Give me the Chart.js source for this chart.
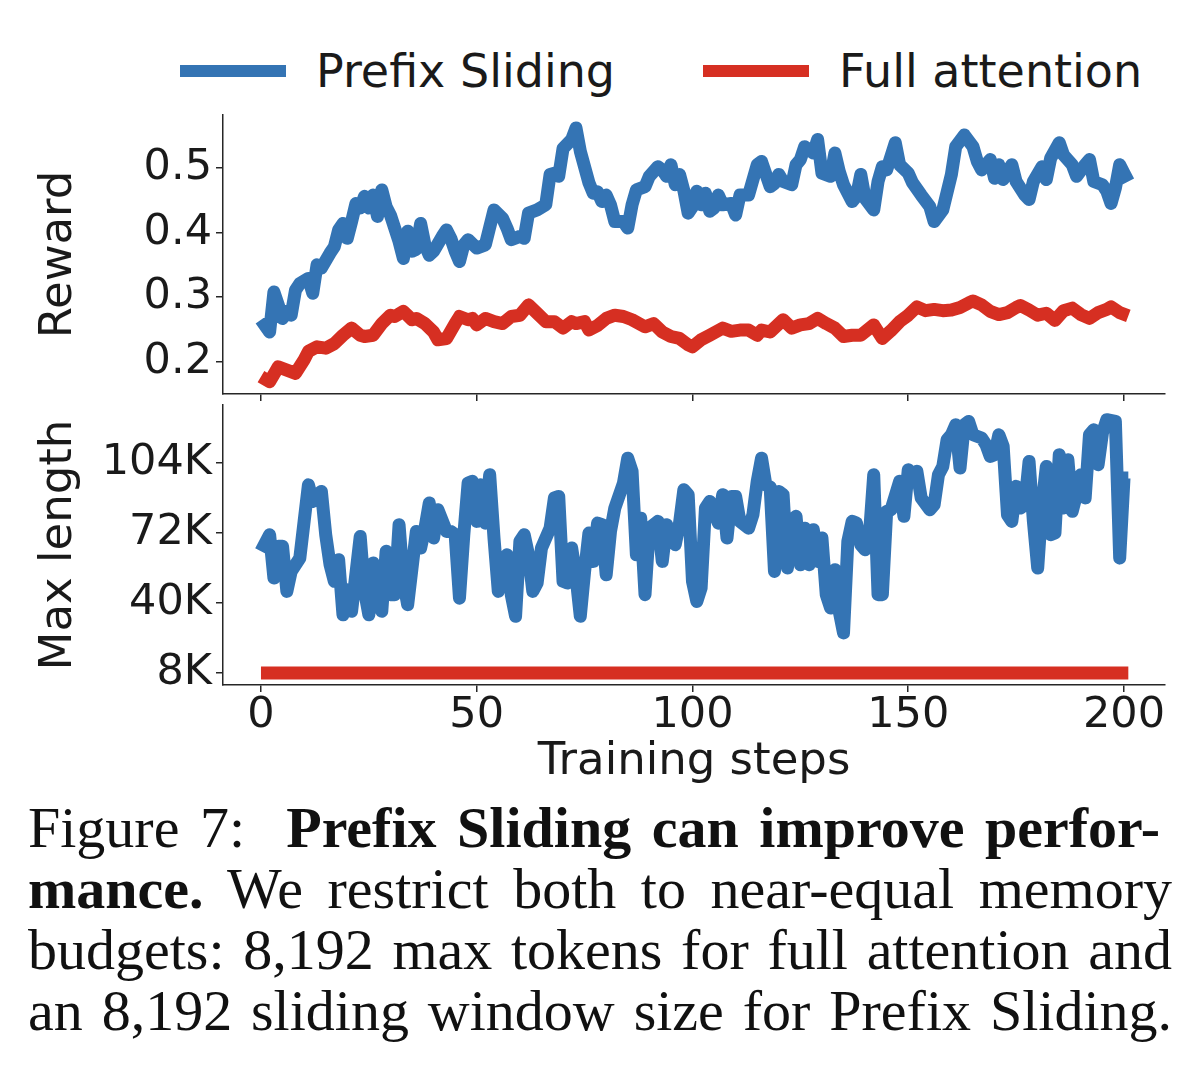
<!DOCTYPE html>
<html>
<head>
<meta charset="utf-8">
<title>Figure 7</title>
<script src="https://cdn.jsdelivr.net/npm/chart.js@4.4.1/dist/chart.umd.min.js"></script>
<style>
    html, body { margin: 0; padding: 0; background: #fff; }
    body { width: 1200px; height: 1071px; position: relative; overflow: hidden; }
    canvas { position: absolute; left: 0; }
    #rewardChart { top: 60px; }
    #lengthChart { top: 370px; }

    .legend {
        position: absolute; left: 180px; top: 44px;
        display: flex; align-items: center;
        font-family: "DejaVu Sans"; font-size: 46px; line-height: 54px; color: #1a1a1a;
        white-space: nowrap;
    }
    .legend .swatch { width: 106px; height: 12px; margin-right: 30px; }
    .legend .name { margin-right: 88px; }

    .caption {
        position: absolute; left: 28px; top: 797px; width: 1144px;
        font-family: "Liberation Serif", serif; font-size: 58px; line-height: 61px; color: #111;
    }
    .caption div { text-align: justify; text-align-last: justify; }
    .caption .first { width: 1132px; }
</style>
</head>
<body>

<div class="legend" id="legend"></div>
<canvas id="rewardChart" width="1200" height="390"></canvas>
<canvas id="lengthChart" width="1200" height="440"></canvas>

<div class="caption">
    <div class="first">Figure 7:&nbsp; <b>Prefix Sliding can improve perfor-</b></div>
    <div><b>mance.</b> We restrict both to near-equal memory</div>
    <div>budgets: 8,192 max tokens for full attention and</div>
    <div>an 8,192 sliding window size for Prefix Sliding.</div>
</div>

<script>
// ================= DATA =================
const stepTicks = [0, 50, 100, 150, 200];
const rewardTicks = [0.2, 0.3, 0.4, 0.5];
const lengthTicks = [8, 40, 72, 104];          // K tokens

const seriesNames = ["Prefix Sliding", "Full attention"];
const seriesColors = ["#3474b4", "#d62f22"];

// Reward, Prefix Sliding
const prefixRewardSteps = [
    0, 2, 3, 4, 5, 6, 7, 8, 9, 11, 12, 13, 14, 16, 17, 18, 19, 20, 21, 22,
    23, 24, 25, 26, 27, 28, 29, 30, 32, 33, 34, 35, 36, 37, 38, 39, 40, 42, 43, 44,
    45, 46, 47, 48, 50, 52, 54, 56, 57, 58, 60, 61, 62, 64, 66, 67, 68, 69, 70, 72,
    73, 74, 76, 77, 78, 79, 80, 81, 82, 84, 85, 86, 87, 89, 90, 92, 93, 94, 95, 96,
    97, 98, 99, 100, 101, 102, 103, 104, 105, 106, 107, 109, 110, 111, 113, 115, 116, 118, 119, 120,
    121, 123, 124, 125, 126, 128, 129, 130, 132, 133, 134, 135, 137, 138, 139, 140, 142, 143, 144, 145,
    147, 148, 150, 151, 153, 155, 156, 158, 160, 161, 163, 165, 166, 167, 169, 170, 171, 172, 174, 175,
    177, 178, 179, 181, 182, 183, 185, 186, 188, 189, 191, 192, 193, 195, 196, 197, 198, 199, 200, 201
];
const prefixReward = [
    0.265, 0.246, 0.308, 0.288, 0.267, 0.278, 0.272, 0.311, 0.321, 0.329, 0.306, 0.350, 0.345, 0.368, 0.378, 0.404, 0.414, 0.391, 0.417, 0.445,
    0.438, 0.456, 0.438, 0.458, 0.425, 0.466, 0.440, 0.427, 0.386, 0.360, 0.402, 0.371, 0.374, 0.414, 0.381, 0.365, 0.371, 0.394, 0.404, 0.391,
    0.371, 0.355, 0.381, 0.389, 0.376, 0.381, 0.435, 0.422, 0.407, 0.389, 0.394, 0.391, 0.430, 0.435, 0.443, 0.490, 0.492, 0.487, 0.530, 0.544,
    0.562, 0.526, 0.477, 0.461, 0.463, 0.448, 0.458, 0.443, 0.417, 0.417, 0.407, 0.443, 0.466, 0.471, 0.487, 0.502, 0.497, 0.487, 0.505, 0.474,
    0.490, 0.465, 0.430, 0.440, 0.464, 0.443, 0.461, 0.433, 0.438, 0.458, 0.443, 0.445, 0.427, 0.458, 0.458, 0.505, 0.510, 0.471, 0.476, 0.490,
    0.479, 0.474, 0.505, 0.513, 0.533, 0.523, 0.544, 0.492, 0.487, 0.523, 0.495, 0.474, 0.448, 0.456, 0.490, 0.453, 0.435, 0.479, 0.502, 0.497,
    0.539, 0.505, 0.492, 0.477, 0.458, 0.440, 0.417, 0.435, 0.490, 0.533, 0.551, 0.533, 0.510, 0.497, 0.513, 0.484, 0.505, 0.482, 0.505, 0.479,
    0.458, 0.451, 0.479, 0.502, 0.482, 0.515, 0.539, 0.520, 0.505, 0.487, 0.505, 0.513, 0.479, 0.474, 0.464, 0.445, 0.469, 0.505, 0.492, 0.479
];

// Reward, Full attention
const fullRewardSteps = [
    0, 2, 4, 6, 8, 10, 11, 13, 15, 17, 19, 21, 23, 24, 26, 28, 30, 31, 33, 35,
    36, 38, 40, 41, 43, 45, 46, 48, 49, 50, 52, 54, 56, 58, 60, 62, 64, 66, 68, 70,
    72, 73, 75, 76, 78, 80, 82, 84, 86, 89, 91, 93, 95, 97, 99, 100, 102, 104, 107, 109,
    111, 113, 115, 116, 118, 121, 123, 125, 127, 129, 131, 133, 135, 137, 139, 142, 144, 146, 148, 150,
    152, 154, 156, 158, 160, 162, 164, 165, 167, 169, 171, 173, 175, 176, 178, 180, 182, 184, 186, 188,
    190, 192, 194, 196, 197, 199, 201
];
const fullReward = [
    0.177, 0.169, 0.192, 0.187, 0.182, 0.203, 0.216, 0.223, 0.221, 0.228, 0.241, 0.252, 0.241, 0.239, 0.241, 0.259, 0.272, 0.270, 0.278, 0.265,
    0.267, 0.259, 0.246, 0.234, 0.236, 0.259, 0.270, 0.265, 0.267, 0.257, 0.267, 0.262, 0.259, 0.270, 0.272, 0.288, 0.275, 0.262, 0.262, 0.252,
    0.262, 0.259, 0.262, 0.249, 0.256, 0.267, 0.272, 0.270, 0.265, 0.254, 0.259, 0.246, 0.239, 0.236, 0.226, 0.223, 0.234, 0.241, 0.252, 0.247,
    0.249, 0.249, 0.241, 0.249, 0.246, 0.265, 0.252, 0.257, 0.259, 0.267, 0.259, 0.252, 0.239, 0.241, 0.241, 0.257, 0.236, 0.248, 0.262, 0.272,
    0.285, 0.279, 0.281, 0.279, 0.280, 0.284, 0.291, 0.294, 0.288, 0.278, 0.273, 0.276, 0.284, 0.287, 0.280, 0.272, 0.275, 0.264, 0.279, 0.283,
    0.273, 0.267, 0.276, 0.281, 0.285, 0.276, 0.271
];

// Max length (K tokens), Prefix Sliding
const prefixLengthSteps = [
    0, 2, 3, 4, 5, 6, 7, 9, 10, 11, 12, 13, 14, 15, 16, 17, 18, 19, 20, 21,
    23, 24, 25, 26, 27, 28, 29, 30, 31, 32, 33, 34, 36, 37, 38, 39, 40, 41, 43, 44,
    45, 46, 47, 48, 49, 50, 51, 52, 53, 54, 55, 57, 58, 59, 60, 61, 62, 63, 64, 65,
    67, 68, 69, 70, 71, 72, 73, 74, 75, 76, 77, 78, 79, 80, 81, 82, 84, 85, 86, 87,
    88, 89, 90, 92, 93, 94, 96, 97, 98, 99, 100, 101, 102, 103, 104, 106, 107, 108, 109, 110,
    111, 113, 114, 115, 116, 117, 118, 119, 120, 121, 122, 123, 124, 125, 126, 127, 128, 129, 130, 131,
    132, 133, 134, 135, 136, 137, 138, 139, 140, 141, 142, 143, 144, 145, 146, 148, 149, 150, 151, 152,
    153, 155, 156, 157, 158, 159, 160, 161, 162, 163, 164, 165, 167, 168, 169, 170, 171, 172, 173, 174,
    175, 176, 177, 178, 179, 180, 181, 182, 183, 184, 185, 186, 187, 188, 189, 190, 191, 192, 193, 194,
    195, 196, 198, 199, 200, 201
];
const prefixLength = [
    63.6, 71.2, 51.4, 65.9, 65.9, 45.3, 54.4, 60.5, 77.3, 94.0, 86.4, 89.5, 91.0, 71.2, 57.5, 49.9, 59.8, 34.6, 46.0, 36.2,
    70.4, 45.3, 34.6, 58.3, 40.7, 36.2, 63.6, 43.8, 43.8, 75.8, 49.9, 39.2, 72.7, 65.1, 74.2, 85.7, 69.7, 82.6, 72.7, 72.7,
    71.2, 42.2, 71.0, 94.8, 95.6, 77.3, 94.0, 76.5, 98.6, 69.7, 45.3, 62.0, 43.8, 33.9, 68.2, 71.2, 62.0, 45.3, 49.1, 65.1,
    74.2, 88.0, 88.7, 49.9, 49.1, 65.1, 52.2, 33.9, 54.4, 72.0, 59.0, 76.5, 75.8, 52.9, 72.7, 83.4, 94.8, 106.2, 100.2, 62.0,
    78.8, 43.8, 74.2, 77.3, 59.0, 75.8, 66.6, 76.5, 91.8, 89.5, 49.9, 40.7, 46.8, 83.4, 86.4, 76.5, 89.5, 69.7, 88.7, 88.7,
    77.3, 74.2, 80.3, 95.6, 106.2, 94.0, 93.0, 54.4, 91.0, 89.5, 56.0, 77.3, 79.6, 57.5, 74.2, 57.5, 73.5, 59.0, 69.7, 43.8,
    37.7, 55.2, 36.2, 26.3, 68.2, 77.3, 76.5, 66.6, 64.3, 71.0, 98.6, 43.8, 43.8, 81.9, 82.6, 95.6, 79.6, 100.9, 95.6, 100.2,
    88.0, 82.6, 84.9, 98.6, 102.4, 114.6, 116.9, 121.5, 101.7, 121.5, 123.0, 116.9, 115.4, 112.4, 107.0, 107.8, 116.9, 111.6, 80.3, 77.3,
    93.3, 83.4, 84.9, 104.7, 77.3, 56.0, 84.9, 102.4, 71.2, 72.0, 107.8, 83.4, 105.5, 81.9, 89.5, 98.6, 88.0, 116.9, 119.2, 103.2,
    117.7, 123.8, 123.0, 60.5, 97.1, 97.1
];

// Max length (K tokens), Full attention: fixed 8K budget
const fullLengthSteps = [0, 50, 100, 150, 201];
const fullLength = [8, 8, 8, 8, 8];


// ================= STYLE =================
const FONT = "DejaVu Sans";
const AXIS_COLOR = "#262626";
const TEXT_COLOR = "#1a1a1a";
const X_MIN = -8.8;
const X_MAX = 209.5;


// ================= HELPERS =================
function toPoints(xs, ys) {
    return xs.map((x, i) => ({ x: x, y: ys[i] }));
}

function lineDataset(index, xs, ys) {
    return {
        label: seriesNames[index],
        data: toPoints(xs, ys),
        borderColor: seriesColors[index],
        backgroundColor: seriesColors[index],
        borderWidth: 13,
        borderJoinStyle: "round",
        borderCapStyle: "butt",
        pointRadius: 0,
        tension: 0,
        fill: false
    };
}

function xScale(showLabels) {
    return {
        type: "linear",
        min: X_MIN,
        max: X_MAX,
        afterBuildTicks: scale => { scale.ticks = stepTicks.map(v => ({ value: v })); },
        afterFit: scale => { if (showLabels) scale.height = 108; },
        border: { display: true, color: AXIS_COLOR, width: 1.5 },
        grid: { drawOnChartArea: false, drawTicks: true, tickLength: 7, color: AXIS_COLOR, lineWidth: 1.5 },
        ticks: {
            display: showLabels,
            autoSkip: false,
            maxRotation: 0,
            padding: 2,
            color: TEXT_COLOR,
            font: { family: FONT, size: 43, lineHeight: 1 }
        },
        title: {
            display: showLabels,
            text: "Training steps",
            color: TEXT_COLOR,
            font: { family: FONT, size: 45 },
            padding: { top: 4, bottom: 4 }
        }
    };
}

function yScale(min, max, tickValues, format, title) {
    return {
        type: "linear",
        min: min,
        max: max,
        afterBuildTicks: scale => { scale.ticks = tickValues.map(v => ({ value: v })); },
        afterFit: scale => { scale.width = 195; },
        border: { display: true, color: AXIS_COLOR, width: 1.5 },
        grid: { drawOnChartArea: false, drawTicks: true, tickLength: 7, color: AXIS_COLOR, lineWidth: 1.5 },
        ticks: {
            autoSkip: false,
            padding: 4,
            color: TEXT_COLOR,
            font: { family: FONT, size: 43 },
            callback: format
        },
        title: {
            display: true,
            text: title,
            color: TEXT_COLOR,
            font: { family: FONT, size: 45 },
            padding: { top: 4, bottom: 4 }
        }
    };
}

function baseOptions(padding) {
    return {
        responsive: false,
        animation: false,
        layout: { padding: padding },
        plugins: { legend: { display: false }, tooltip: { enabled: false } }
    };
}


// ================= REWARD PANEL =================
const rewardOptions = baseOptions({ left: 28, right: 35, top: 55, bottom: 49 });
rewardOptions.scales = {
    x: xScale(false),
    y: yScale(0.15, 0.582, rewardTicks, v => v.toFixed(1), "Reward")
};

const rewardChart = new Chart(document.getElementById("rewardChart"), {
    type: "line",
    data: {
        datasets: [
            lineDataset(0, prefixRewardSteps, prefixReward),
            lineDataset(1, fullRewardSteps, fullReward)
        ]
    },
    options: rewardOptions
});


// ================= MAX LENGTH PANEL =================
const lengthOptions = baseOptions({ left: 28, right: 35, top: 35, bottom: 17 });
lengthOptions.scales = {
    x: xScale(true),
    y: yScale(2.5, 130.5, lengthTicks, v => v + "K", "Max length")
};

new Chart(document.getElementById("lengthChart"), {
    type: "line",
    data: {
        datasets: [
            lineDataset(0, prefixLengthSteps, prefixLength),
            lineDataset(1, fullLengthSteps, fullLength)
        ]
    },
    options: lengthOptions
});


// ================= LEGEND =================
function buildLegend(chart) {

    const box = document.getElementById("legend");

    chart.data.datasets.forEach(ds => {

        const swatch = document.createElement("span");
        swatch.className = "swatch";
        swatch.style.background = ds.borderColor;

        const name = document.createElement("span");
        name.className = "name";
        name.textContent = ds.label;

        box.appendChild(swatch);
        box.appendChild(name);

    });

}

buildLegend(rewardChart);
</script>
</body>
</html>
